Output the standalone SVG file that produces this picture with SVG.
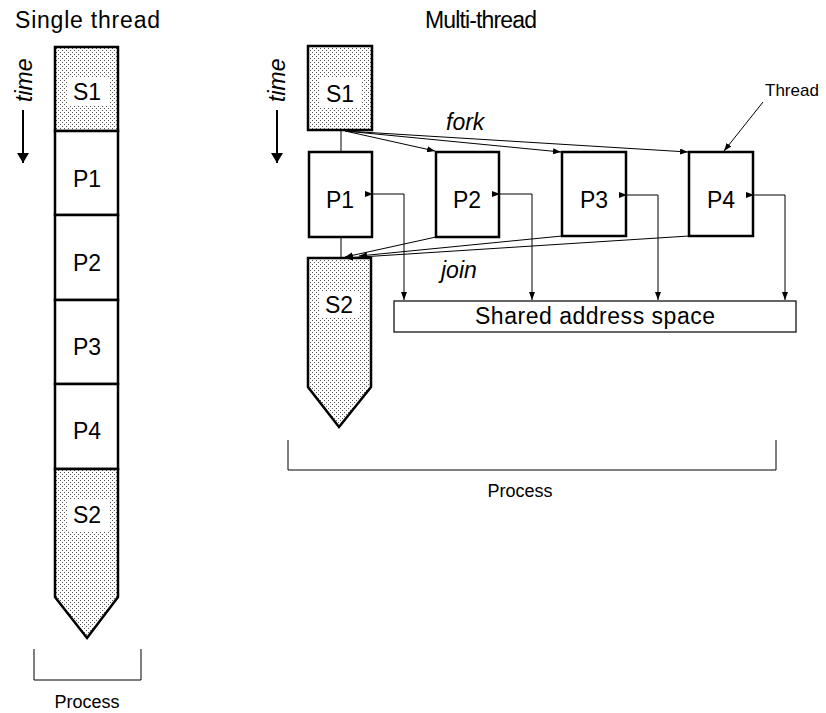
<svg xmlns="http://www.w3.org/2000/svg" width="826" height="713" viewBox="0 0 826 713">
<defs>
<pattern id="dots" width="4" height="4" patternUnits="userSpaceOnUse">
<rect width="4" height="4" fill="#ffffff"/>
<rect x="0" y="0" width="1" height="1" fill="#555"/>
<rect x="2" y="2" width="1" height="1" fill="#555"/>
</pattern>
<marker id="ah" viewBox="0 0 8 6" markerWidth="8" markerHeight="6" refX="8" refY="3" orient="auto" markerUnits="userSpaceOnUse">
<path d="M0,0 L8,3 L0,6 z" fill="#000"/>
</marker>
<marker id="big" viewBox="0 0 10 12" markerWidth="10" markerHeight="12" refX="10" refY="6" orient="auto" markerUnits="userSpaceOnUse">
<path d="M0,0 L10,6 L0,12 z" fill="#000"/>
</marker>
</defs>
<style>
text{font-family:"Liberation Sans",Arial,sans-serif;fill:#000}
.title{font-size:23px}
.lbl{font-size:23px;text-anchor:middle}
.it{font-style:italic;font-size:23px}
.sm{font-size:18px}
.box{fill:#fff;stroke:#000;stroke-width:2.5}
.dot{fill:url(#dots);stroke:#000;stroke-width:2.5}
.bg{fill:#fff}
.ln{fill:none;stroke:#000;stroke-width:1}
.arr{fill:none;stroke:#000;stroke-width:1;marker-end:url(#ah)}
.arr2{fill:none;stroke:#000;stroke-width:1;marker-start:url(#ah);marker-end:url(#ah)}
</style>

<!-- Titles -->
<text class="title" x="15" y="28" textLength="145">Single thread</text>
<text class="title" x="425" y="28" textLength="112">Multi-thread</text>

<!-- time indicators -->
<g id="time-single">
<text class="it" transform="translate(32,102) rotate(-90)">time</text>
<line x1="23" y1="110" x2="23" y2="163" stroke="#000" stroke-width="2" marker-end="url(#big)"/>
</g>
<g id="time-multi">
<text class="it" transform="translate(285,102) rotate(-90)">time</text>
<line x1="277" y1="110" x2="277" y2="163" stroke="#000" stroke-width="2" marker-end="url(#big)"/>
</g>

<!-- Single thread column -->
<g id="st-S1">
<rect class="dot" x="55" y="47" width="63" height="84"/>
<rect class="bg" x="67" y="78" width="43" height="27"/>
<text class="lbl" x="87" y="100">S1</text>
</g>
<g id="st-P1">
<rect class="box" x="55" y="131" width="63" height="84"/>
<text class="lbl" x="87" y="187">P1</text>
</g>
<g id="st-P2">
<rect class="box" x="55" y="215" width="63" height="85"/>
<text class="lbl" x="87" y="271">P2</text>
</g>
<g id="st-P3">
<rect class="box" x="55" y="300" width="63" height="84"/>
<text class="lbl" x="87" y="355">P3</text>
</g>
<g id="st-P4">
<rect class="box" x="55" y="384" width="63" height="85"/>
<text class="lbl" x="87" y="439">P4</text>
</g>
<g id="st-S2">
<polygon class="dot" points="55,469 118,469 118,597 87,638 55,597"/>
<rect class="bg" x="67" y="500" width="43" height="32"/>
<text class="lbl" x="87" y="523">S2</text>
</g>
<g id="st-process">
<polyline class="ln" points="34,649 34,680 141,680 141,649"/>
<text class="sm" x="87" y="708" text-anchor="middle">Process</text>
</g>

<!-- Multi-thread nodes -->
<g id="mt-S1">
<rect class="dot" x="308" y="46" width="64" height="84"/>
<rect class="bg" x="320" y="78" width="42" height="30"/>
<text class="lbl" x="340" y="102">S1</text>
</g>
<g id="mt-P1">
<rect class="box" x="309" y="152" width="63" height="85"/>
<text class="lbl" x="340" y="208">P1</text>
</g>
<g id="mt-P2">
<rect class="box" x="436" y="152" width="63" height="85"/>
<text class="lbl" x="467" y="208">P2</text>
</g>
<g id="mt-P3">
<rect class="box" x="562" y="152" width="64" height="84"/>
<text class="lbl" x="594" y="208">P3</text>
</g>
<g id="mt-P4">
<rect class="box" x="689" y="152" width="64" height="84"/>
<text class="lbl" x="721" y="208">P4</text>
</g>
<g id="mt-S2">
<polygon class="dot" points="308,258 371,258 371,387 339,427 308,387"/>
<rect class="bg" x="320" y="292" width="40" height="26"/>
<text class="lbl" x="339" y="313">S2</text>
</g>
<g id="shared">
<rect x="394" y="301" width="402" height="31" fill="#fff" stroke="#000" stroke-width="1.2"/>
<text x="595" y="324" font-size="23" text-anchor="middle" textLength="240">Shared address space</text>
</g>
<g id="mt-process">
<polyline class="ln" points="288,440 288,470 776,470 776,440"/>
<text class="sm" x="520" y="497" text-anchor="middle">Process</text>
</g>
<g id="thread-label">
<text x="765" y="96" font-size="17">Thread</text>
</g>

<!-- Connectors -->
<g id="connectors">
<line class="ln" x1="341" y1="130" x2="341" y2="152"/>
<line class="ln" x1="341" y1="237" x2="341" y2="258"/>
<!-- fork -->
<line class="arr" x1="345" y1="131" x2="435" y2="151"/>
<line class="arr" x1="345" y1="131" x2="561" y2="152"/>
<line class="arr" x1="345" y1="131" x2="688" y2="152"/>
<text class="it" x="446" y="130">fork</text>
<!-- join -->
<line class="arr" x1="436" y1="237" x2="345" y2="257"/>
<line class="arr" x1="562" y1="236" x2="359" y2="256"/>
<line class="arr" x1="689" y1="236" x2="345" y2="258"/>
<text class="it" x="441" y="278">join</text>
<!-- shared address space links -->
<polyline class="arr2" points="373,194 404,194 404,300"/>
<polyline class="arr2" points="500,194 532,194 532,300"/>
<polyline class="arr2" points="627,195 658,195 658,300"/>
<polyline class="arr2" points="754,195 785,195 785,300"/>
<!-- thread pointer -->
<line class="arr" x1="763" y1="102" x2="724" y2="151"/>
</g>
</svg>
